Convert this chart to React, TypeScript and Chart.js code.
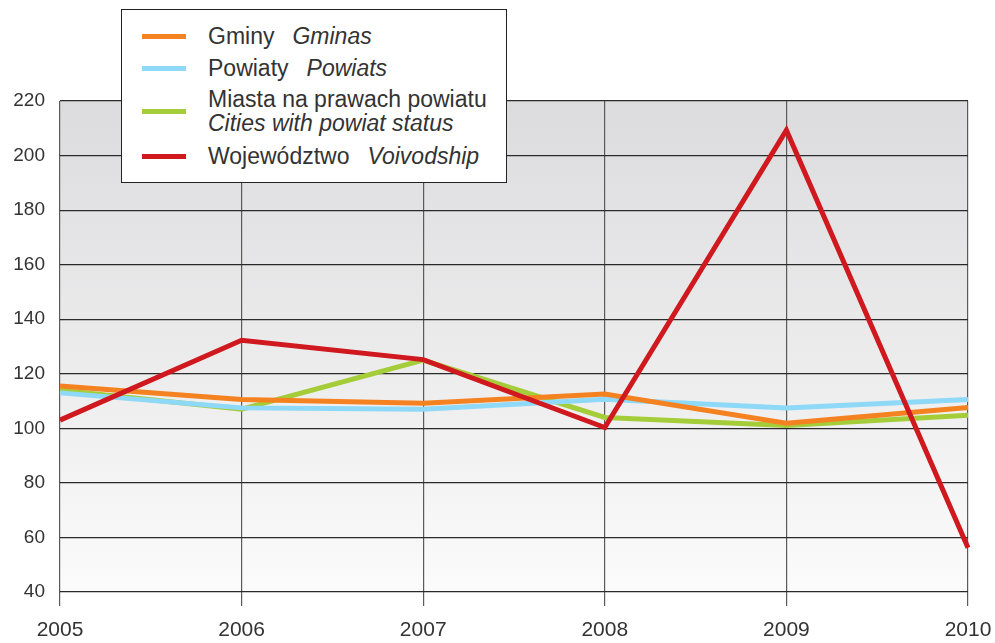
import React, { useEffect, useRef } from "react";
import { Chart, registerables } from "chart.js";

Chart.register(...registerables);

const years = ["2005", "2006", "2007", "2008", "2009", "2010"];
const gminy = [115.5, 110.6, 109.2, 112.6, 101.9, 107.6];
const powiaty = [113, 107.5, 107, 110.7, 107.5, 110.6];
const miasta = [114, 107, 125, 104, 101, 104.8];
const wojewodztwo = [103, 132.3, 125.2, 100.3, 209.3, 56.2];

const yMin = 40;
const yMax = 220;
const yStep = 20;

const legendItems = [
  { color: "#f58220", lines: [["Gminy", "Gminas"]] },
  { color: "#8ed8f8", lines: [["Powiaty", "Powiats"]] },
  { color: "#a5cd39", lines: [["Miasta na prawach powiatu", ""], ["", "Cities with powiat status"]] },
  { color: "#d0181f", lines: [["Województwo", "Voivodship"]] },
];

const bgPlugin = {
  id: "bgGradient",
  beforeDraw(chart: any) {
    const { ctx, chartArea } = chart;
    if (!chartArea) return;
    const g = ctx.createLinearGradient(0, chartArea.top, 0, chartArea.bottom);
    g.addColorStop(0, "#dcdcde");
    g.addColorStop(0.5, "#ebebec");
    g.addColorStop(1, "#fbfbfb");
    ctx.save();
    ctx.fillStyle = g;
    ctx.fillRect(chartArea.left, chartArea.top, chartArea.right - chartArea.left, chartArea.bottom - chartArea.top);
    ctx.restore();
  },
};

export default function App() {
  const ref = useRef<HTMLCanvasElement>(null);

  useEffect(() => {
    if (!ref.current) return;
    const mk = (label: string, data: number[], color: string, order: number) => ({
      label,
      data,
      borderColor: color,
      backgroundColor: color,
      borderWidth: 5,
      pointRadius: 0,
      pointHoverRadius: 0,
      tension: 0,
      fill: false,
      order,
      borderJoinStyle: "miter" as const,
      borderCapStyle: "butt" as const,
    });
    const chart = new Chart(ref.current, {
      type: "line",
      data: {
        labels: years,
        datasets: [
          mk("Miasta na prawach powiatu", miasta, legendItems[2].color, 3),
          mk("Powiaty", powiaty, legendItems[1].color, 2),
          mk("Gminy", gminy, legendItems[0].color, 1),
          mk("Województwo", wojewodztwo, legendItems[3].color, 0),
        ],
      },
      options: {
        animation: false,
        responsive: false,
        maintainAspectRatio: false,
        layout: { padding: { top: 101, right: 27, left: 0, bottom: 0 } },
        plugins: { legend: { display: false }, tooltip: { enabled: false } },
        scales: {
          x: {
            type: "category",
            offset: false,
            afterFit: (s: any) => { s.height = 51; s.paddingRight = 0; s.paddingLeft = 0; },
            grid: { color: "#5a5a5a", lineWidth: 1.2, tickLength: 14, drawOnChartArea: true },
            border: { display: false },
            ticks: { color: "#333", padding: 12, maxRotation: 0, font: { family: "Liberation Sans, Arial, sans-serif", size: 21 } },
          },
          y: {
            min: yMin,
            max: yMax,
            afterFit: (s: any) => { s.width = 60; s.paddingTop = 0; s.paddingBottom = 0; },
            grid: { color: "#2a2a2a", lineWidth: 1.2, drawTicks: false },
            border: { display: false },
            ticks: { stepSize: yStep, color: "#333", padding: 15, font: { family: "Liberation Sans, Arial, sans-serif", size: 19 } },
          },
        },
      },
      plugins: [bgPlugin],
    });
    return () => chart.destroy();
  }, []);

  const textStyle: React.CSSProperties = {
    position: "absolute",
    left: 86,
    fontFamily: "Liberation Sans, Arial, sans-serif",
    fontSize: 23,
    color: "#333",
    whiteSpace: "nowrap",
    lineHeight: "24px",
    transform: "translateY(-50%)",
  };
  const rowY = [35, 67, 110, 155];

  return (
    <div style={{ position: "absolute", left: 0, top: 0, width: 995, height: 643, background: "#fff" }}>
      <canvas ref={ref} width={995} height={643} style={{ position: "absolute", left: 0, top: 0 }} />
      <div
        style={{
          position: "absolute",
          left: 121,
          top: 9,
          width: 384,
          height: 172,
          background: "#fff",
          border: "1.5px solid #222",
        }}
      >
        {legendItems.map((it, i) => (
          <React.Fragment key={i}>
            <div
              style={{
                position: "absolute",
                left: 20,
                top: rowY[i] - 9 - 2.5,
                width: 44,
                height: 5,
                background: it.color,
              }}
            />
            <div style={{ ...textStyle, top: rowY[i] - 9 }}>
              {it.lines.map((ln, j) => (
                <div key={j}>
                  {ln[0]}
                  {ln[0] && ln[1] ? <span style={{ display: "inline-block", width: 18 }} /> : null}
                  {ln[1] ? <i>{ln[1]}</i> : null}
                </div>
              ))}
            </div>
          </React.Fragment>
        ))}
      </div>
    </div>
  );
}
